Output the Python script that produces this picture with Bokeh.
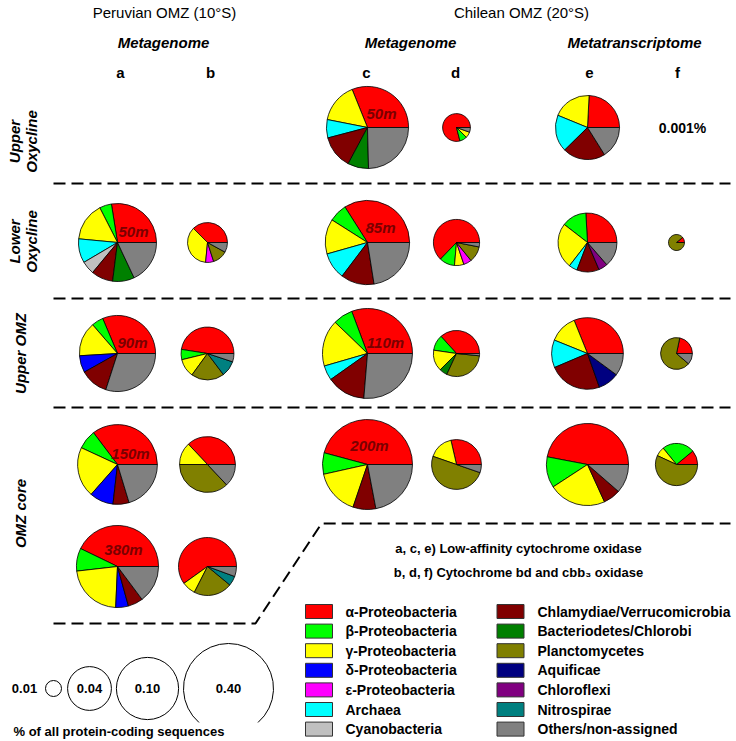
import math
from bokeh.plotting import figure
from bokeh.models import ColumnDataSource, Range1d
from bokeh.core.properties import value
from bokeh.embed import file_html
from bokeh.resources import INLINE

# ---------------- data ----------------
groups = ["α-Proteobacteria", "β-Proteobacteria", "γ-Proteobacteria", "δ-Proteobacteria",
          "ε-Proteobacteria", "Archaea", "Cyanobacteria", "Chlamydiae/Verrucomicrobia",
          "Bacteriodetes/Chlorobi", "Planctomycetes", "Aquificae", "Chloroflexi",
          "Nitrospirae", "Others/non-assigned"]
colors = ["#FF0000", "#00FF00", "#FFFF00", "#0000FF", "#FF00FF", "#00FFFF", "#C0C0C0",
          "#800000", "#008000", "#808000", "#000080", "#800080", "#008080", "#808080"]

# composition (% of each pie), order as in `groups`
a_50  = [27.5, 5.0, 16.0, 0, 0, 10.0, 5.5, 9.0, 9.0, 0, 0, 0, 0, 18.0]
b_50  = [37.5, 0, 36.0, 0, 6.5, 0, 0, 0, 0, 12.0, 0, 0, 0, 8.0]
a_90  = [31.4, 5.0, 14.6, 7.2, 0, 0, 0, 11.9, 0, 0, 0, 0, 0, 30.0]
b_90  = [47.5, 6.3, 11.2, 0, 0, 0, 0, 0, 0, 20.3, 0, 0, 9.6, 5.1]
a_150 = [35.3, 7.8, 20.4, 9.7, 0, 0, 0, 6.5, 0, 0, 0, 0, 0, 20.3]
b_150 = [37.0, 0, 13.0, 0, 0, 0, 0, 0, 0, 37.0, 0, 0, 0, 13.0]
a_380 = [42.8, 9.0, 22.5, 5.0, 0, 0, 0, 5.9, 0, 0, 0, 0, 0, 14.8]
b_380 = [59.9, 0, 7.6, 0, 0, 0, 0, 0, 0, 21.5, 0, 0, 5.4, 5.6]
c_50  = [31.1, 0, 15.8, 0, 0, 7.2, 0, 13.1, 8.2, 0, 0, 0, 0, 24.6]
d_50  = [79.0, 8.5, 7.0, 0, 0, 0, 0, 0, 0, 0, 0, 0, 0, 5.5]
e_50  = [24.2, 0, 19.6, 0, 0, 18.6, 0, 21.5, 0, 0, 0, 0, 0, 16.1]
c_85  = [34.0, 7.0, 13.4, 0, 0, 10.3, 0, 12.8, 0, 0, 0, 0, 0, 22.5]
d_85  = [62.8, 10.8, 6.6, 0, 5.6, 0, 0, 0, 0, 11.1, 0, 0, 0, 3.1]
e_85  = [25.9, 13.6, 25.0, 0, 0, 4.7, 0, 12.2, 0, 0, 0, 5.0, 0, 13.6]
f_85  = [11.0, 0, 0, 0, 0, 0, 0, 0, 0, 89.0, 0, 0, 0, 0]
c_110 = [30.7, 7.1, 16.7, 0, 0, 5.3, 0, 13.9, 0, 0, 0, 0, 0, 26.3]
d_110 = [36.7, 11.0, 14.8, 0, 0, 0, 0, 0, 5.6, 30.3, 0, 0, 0, 1.6]
e_110 = [31.1, 0, 12.8, 0, 0, 12.5, 0, 24.0, 0, 0, 9.5, 0, 0, 10.1]
f_110 = [21.7, 0, 0, 0, 0, 0, 0, 0, 0, 67.0, 0, 0, 0, 11.3]
c_200 = [45.8, 7.7, 16.3, 0, 0, 0, 0, 8.2, 0, 0, 0, 0, 0, 22.0]
d_200 = [28.6, 0, 16.1, 0, 0, 0, 0, 0, 0, 50.0, 0, 0, 0, 5.3]
e_200 = [47.0, 12.2, 22.6, 0, 0, 0, 0, 6.8, 0, 0, 0, 0, 0, 11.4]
f_200 = [11.0, 24.9, 7.2, 0, 0, 0, 0, 0, 0, 56.9, 0, 0, 0, 0]

# sample table: panel column, depth row, composition, abundance (% of all protein-coding sequences)
sample_col   = ["a", "b", "a", "b", "a", "b", "a", "b",
                "c", "d", "e", "c", "d", "e", "f", "c", "d", "e", "f", "c", "d", "e", "f"]
sample_row   = [1, 1, 2, 2, 3, 3, 4, 4,
                0, 0, 0, 1, 1, 1, 1, 2, 2, 2, 2, 3, 3, 3, 3]
sample_comp  = [a_50, b_50, a_90, b_90, a_150, b_150, a_380, b_380,
                c_50, d_50, e_50, c_85, d_85, e_85, f_85, c_110, d_110, e_110, f_110,
                c_200, d_200, e_200, f_200]
sample_abund = [0.22, 0.033, 0.20, 0.063, 0.24, 0.073, 0.27, 0.081,
                0.27, 0.018, 0.11, 0.30, 0.045, 0.085, 0.010, 0.40, 0.045, 0.16, 0.022,
                0.40, 0.054, 0.27, 0.037]

depth_labels = ["50m", "90m", "150m", "380m", "50m", "85m", "110m", "200m"]
depth_label_col = ["a", "a", "a", "a", "c", "c", "c", "c"]
depth_label_row = [1, 2, 3, 4, 0, 1, 2, 3]

scale_values = [0.01, 0.04, 0.10, 0.40]
scale_labels = ["0.01", "0.04", "0.10", "0.40"]

row_names = [["Upper", "Oxycline"], ["Lower", "Oxycline"], ["Upper OMZ"], ["OMZ core"]]
panel_letters = ["a", "b", "c", "d", "e", "f"]

# ---------------- layout helpers ----------------
col_x = {"a": 117, "b": 207, "c": 367, "d": 456, "e": 587, "f": 676}
row_y = [127, 242, 353, 464, 566]          # pixel rows (from top)
W, H = 736, 741


def Y(y_top):
    return H - y_top


def radius(v):
    # logarithmic size scale used by the key circles
    return 54.2 + 23.1 * math.log10(v)


FONT = value("Liberation Sans")

p = figure(width=W, height=H, x_range=Range1d(0, W), y_range=Range1d(0, H),
           output_backend="svg", toolbar_location=None, min_border=0,
           x_axis_location=None, y_axis_location=None)
p.grid.visible = False
p.outline_line_color = None
p.background_fill_color = "white"
p.border_fill_color = "white"


def txt(x, y, s, size="15px", style="bold", align="center", angle=0.0, color="black", font=FONT):
    p.text(x=[x], y=[Y(y)], text=[s], text_font=font, text_font_size=size,
           text_font_style=style, text_align=align, text_baseline="middle",
           angle=angle, text_color=color)


# ---------------- pies ----------------
wx, wy, wr, ws, we, wc = [], [], [], [], [], []
for col, row, comp, ab in zip(sample_col, sample_row, sample_comp, sample_abund):
    tot = sum(comp)
    a0 = 0.0
    for v, c in zip(comp, colors):
        if v <= 0:
            continue
        a1 = a0 + 2 * math.pi * v / tot
        wx.append(col_x[col]); wy.append(Y(row_y[row])); wr.append(radius(ab))
        ws.append(a0); we.append(a1); wc.append(c)
        a0 = a1
src = ColumnDataSource(dict(x=wx, y=wy, r=wr, s=ws, e=we, c=wc))
p.wedge(x="x", y="y", radius="r", radius_units="screen", start_angle="s", end_angle="e",
        direction="anticlock", fill_color="c", line_color="black", line_width=0.8, source=src)

# depth labels inside the big pies
label_off = [(16, -11), (15, -11), (13, -11), (6, -17), (14, -14), (13, -15), (18, -11), (2, -19)]
for s, col, row, (dx, dy) in zip(depth_labels, depth_label_col, depth_label_row, label_off):
    txt(col_x[col] + dx, row_y[row] + dy, s, size="15px", style="bold italic", color="#7a0000")

txt(682, 127, "0.001%", size="14px")

# ---------------- headers ----------------
txt(164, 12, "Peruvian OMZ (10°S)", size="15px", style="normal")
txt(521, 12, "Chilean OMZ (20°S)", size="15px", style="normal")
txt(163, 42, "Metagenome", size="15px", style="bold italic")
txt(410, 42, "Metagenome", size="15px", style="bold italic")
txt(634, 42, "Metatranscriptome", size="15px", style="bold italic")
letter_x = [120, 210, 366, 455, 589, 677]
for l, x in zip(panel_letters, letter_x):
    txt(x, 72, l, size="15px")

# row labels (rotated)
row_label_y = [141, 241, 353, 513]
for names, yc in zip(row_names, row_label_y):
    if len(names) == 2:
        txt(14, yc, names[0], size="15px", style="bold italic", angle=math.pi / 2)
        txt(31, yc, names[1], size="15px", style="bold italic", angle=math.pi / 2)
    else:
        txt(20, yc, names[0], size="15px", style="bold italic", angle=math.pi / 2)

# ---------------- dashed separators ----------------
for yy in [183, 298, 407]:
    p.line([53, 730], [Y(yy), Y(yy)], line_dash="12 6", line_width=2, line_color="black")
p.line([53, 255, 321, 730], [Y(623), Y(623), Y(523), Y(523)], line_dash="12 6",
       line_width=2, line_color="black")

txt(518, 548, "a, c, e) Low-affinity cytochrome oxidase", size="13px")
txt(518, 572, "b, d, f) Cytochrome bd and cbb₃ oxidase", size="13px")

# ---------------- legend ----------------
leg_y = [611 + 19.6 * i for i in range(7)]
lx, ly, lc = [], [], []
for i, (g, c) in enumerate(zip(groups, colors)):
    colj, rowi = divmod(i, 7)
    bx = 318.5 if colj == 0 else 510
    lx.append(bx); ly.append(Y(leg_y[rowi])); lc.append(c)
    txt(345 if colj == 0 else 537, leg_y[rowi], g, size="14px", align="left")
p.rect(x=lx, y=ly, width=27, height=14, fill_color=lc, line_color="#333333", line_width=1)

# ---------------- size key ----------------
scale_x = [53, 89, 147, 228]
for v, lab, x in zip(scale_values, scale_labels, scale_x):
    r = radius(v)
    if v == scale_values[-1]:
        p.arc(x=[x], y=[Y(688)], radius=[r], radius_units="screen",
              start_angle=math.radians(-49), end_angle=math.radians(229),
              direction="anticlock", line_color="black", line_width=1)
    else:
        p.arc(x=[x], y=[Y(688)], radius=[r], radius_units="screen",
              start_angle=0, end_angle=2 * math.pi, line_color="black", line_width=1)
    if v == scale_values[0]:
        txt(24, 688, lab, size="13px")
    else:
        txt(x, 688, lab, size="13px")
txt(13, 731, "% of all protein-coding sequences", size="13px", align="left")

open("out.html", "w").write(file_html(p, INLINE))
